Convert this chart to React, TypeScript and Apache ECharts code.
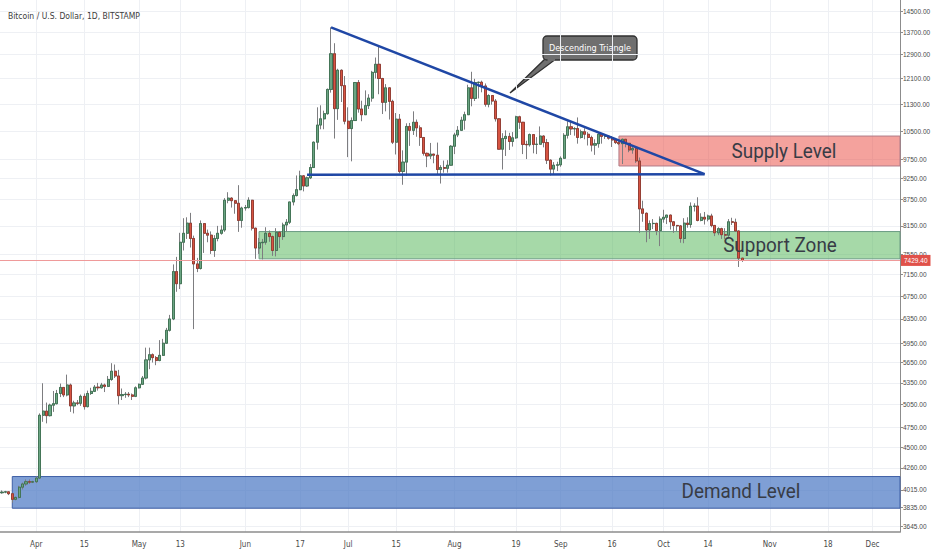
import React, { useEffect, useRef } from "react";
import * as echarts from "echarts";

// ---------- data ----------
const firstDay = "2019-03-21";
const lastDay = "2019-12-09";

// daily candles [open, high, low, close]
const ohlcMar: number[][] = [
  [4045, 4090, 3960, 3985], [3985, 4010, 3975, 3992], [3992, 4005, 3980, 3995], [3995, 4000, 3960, 3975],
  [3975, 3985, 3880, 3915], [3915, 3945, 3905, 3935], [3935, 4060, 3925, 4045], [4045, 4095, 4020, 4080],
  [4080, 4130, 4060, 4105], [4105, 4130, 4080, 4100], [4100, 4115, 4090, 4105],
];
const ohlcApr: number[][] = [
  [4105, 4165, 4090, 4145], [4145, 4930, 4140, 4905], [4905, 5345, 4820, 4960], [4960, 5075, 4800, 4900],
  [4900, 5060, 4890, 5040], [5040, 5235, 4950, 5060], [5060, 5250, 5050, 5200], [5200, 5340, 5150, 5285],
  [5285, 5290, 5150, 5180], [5180, 5470, 5160, 5320], [5320, 5340, 4950, 5030], [5030, 5100, 4930, 5070],
  [5070, 5110, 5040, 5065], [5065, 5185, 5030, 5160], [5160, 5200, 4980, 5020], [5020, 5240, 5010, 5200],
  [5200, 5280, 5180, 5230], [5230, 5320, 5220, 5290], [5290, 5350, 5240, 5280], [5280, 5350, 5270, 5320],
  [5320, 5340, 5220, 5300], [5300, 5450, 5290, 5400], [5400, 5640, 5380, 5520], [5520, 5620, 5420, 5450],
  [5450, 5540, 5050, 5170], [5170, 5270, 5110, 5185], [5185, 5220, 5140, 5190], [5190, 5220, 5150, 5180],
  [5180, 5200, 5110, 5160], [5160, 5300, 5150, 5280],
];
const ohlcMay: number[][] = [
  [5280, 5340, 5270, 5330], [5330, 5450, 5320, 5420], [5420, 5880, 5400, 5690], [5690, 5880, 5550, 5770],
  [5770, 5790, 5650, 5725], [5725, 5750, 5610, 5680], [5680, 6000, 5670, 5760], [5760, 6020, 5750, 5950],
  [5950, 6200, 5940, 6160], [6160, 6420, 6140, 6350], [6350, 7350, 6330, 7210], [7210, 7500, 6830, 6980],
  [6980, 8000, 6880, 7800], [7800, 8320, 7630, 7990], [7990, 8340, 7870, 8210], [8210, 8440, 7690, 7880],
  [7880, 7940, 6180, 7360], [7360, 7480, 7200, 7270], [7270, 8270, 7250, 8200], [8200, 8210, 7580, 7990],
  [7990, 8070, 7800, 7950], [7950, 8030, 7560, 7630], [7630, 7950, 7500, 7880], [7880, 8150, 7820, 7990],
  [7990, 8160, 7960, 8060], [8060, 8780, 8020, 8730], [8730, 8920, 8660, 8780], [8780, 8800, 8560, 8720],
  [8720, 8730, 8420, 8660], [8660, 9090, 8020, 8270], [8270, 8580, 8110, 8550],
];
const ohlcJun: number[][] = [
  [8550, 8620, 8490, 8560], [8560, 8800, 8540, 8730], [8730, 8740, 8050, 8100], [8100, 8110, 7460, 7680],
  [7680, 7890, 7560, 7790], [7790, 7870, 7450, 7800], [7800, 8120, 7750, 7990], [7990, 8050, 7810, 7920],
  [7920, 7940, 7520, 7630], [7630, 8100, 7510, 8010], [8010, 8040, 7680, 7920], [7920, 8220, 7850, 8170],
  [8170, 8300, 8030, 8230], [8230, 8690, 8190, 8690], [8690, 8890, 8610, 8840], [8840, 9330, 8820, 8980],
  [8980, 9450, 8970, 9320], [9320, 9340, 8940, 9070], [9070, 9300, 9050, 9270], [9270, 9620, 9240, 9530],
  [9530, 10220, 9520, 10200], [10200, 11200, 10000, 10680], [10680, 11260, 10560, 10860], [10860, 11100, 10560, 11010],
  [11010, 11780, 10980, 11750], [11750, 13880, 11650, 12930], [12930, 13300, 10300, 11160], [11160, 12420, 10830, 12370],
  [12370, 12400, 11360, 11870], [11870, 12180, 10700, 10790],
];
const ohlcJul: number[][] = [
  [10790, 11200, 9800, 10580], [10580, 10900, 9690, 10810], [10810, 11980, 10810, 11970], [11970, 12050, 11040, 11150],
  [11150, 11400, 10790, 10980], [10980, 11720, 10980, 11250], [11250, 11600, 11150, 11480], [11480, 12350, 11370, 12300],
  [12300, 12800, 12100, 12570], [12570, 13180, 11600, 12100], [12100, 12120, 11000, 11350], [11350, 11920, 11080, 11800],
  [11800, 11820, 10840, 11380], [11380, 11430, 10150, 10200], [10200, 11030, 9870, 10850], [10850, 11000, 9380, 9430],
  [9430, 9980, 9100, 9670], [9670, 10730, 9320, 10640], [10640, 10740, 10100, 10530], [10530, 11080, 10400, 10760],
  [10760, 10840, 10350, 10600], [10600, 10670, 10100, 10330], [10330, 10330, 9840, 9900], [9900, 9920, 9540, 9830],
  [9830, 10180, 9750, 9880], [9880, 9880, 9640, 9850], [9850, 10190, 9340, 9480], [9480, 9590, 9130, 9530],
  [9530, 9710, 9400, 9510], [9510, 9720, 9400, 9590], [9590, 10120, 9580, 10090],
];
const ohlcAug: number[][] = [
  [10090, 10460, 9880, 10400], [10400, 10650, 10340, 10530], [10530, 10920, 10510, 10820], [10820, 11070, 10550, 10980],
  [10980, 11900, 10970, 11800], [11800, 12320, 11230, 11470], [11470, 12090, 11390, 11970], [11970, 12000, 11470, 11980],
  [11980, 12030, 11660, 11860], [11860, 11940, 11220, 11290], [11290, 11600, 11200, 11560], [11560, 11560, 11280, 11390],
  [11390, 11450, 10780, 10860], [10860, 10880, 10000, 10010], [10010, 10450, 9480, 10300], [10300, 10530, 9830, 10360],
  [10360, 10460, 9990, 10220], [10220, 10480, 10080, 10320], [10320, 10950, 10290, 10920], [10920, 10950, 10570, 10760],
  [10760, 10770, 9880, 10140], [10140, 10240, 9750, 10130], [10130, 10440, 10080, 10410], [10410, 10420, 9900, 10140],
  [10140, 10340, 9880, 10145], [10145, 10640, 10140, 10370], [10370, 10390, 10060, 10190], [10190, 10290, 9620, 9720],
  [9720, 9740, 9330, 9490], [9490, 9670, 9360, 9590], [9590, 9680, 9440, 9600],
];
const ohlcSep: number[][] = [
  [9600, 9820, 9550, 9770], [9770, 10450, 9760, 10390], [10390, 10790, 10300, 10630], [10630, 10790, 10400, 10570],
  [10570, 10620, 10380, 10580], [10580, 10900, 10160, 10330], [10330, 10550, 10300, 10490], [10490, 10590, 10280, 10420],
  [10420, 10480, 10110, 10330], [10330, 10380, 9950, 10120], [10120, 10280, 9860, 10160], [10160, 10450, 10050, 10420],
  [10420, 10440, 10160, 10360], [10360, 10420, 10290, 10365], [10365, 10390, 10270, 10310], [10310, 10370, 10070, 10260],
  [10260, 10280, 10150, 10190], [10190, 10260, 10120, 10160], [10160, 10300, 9620, 10280], [10280, 10290, 10060, 10170],
  [10170, 10170, 9930, 9990], [9990, 10080, 9890, 10030], [10030, 10050, 9650, 9700], [9700, 9790, 8000, 8530],
  [8530, 8720, 8240, 8430], [8430, 8450, 7800, 8060], [8060, 8270, 7870, 8200], [8200, 8300, 8080, 8205],
  [8205, 8220, 7950, 8050], [8050, 8360, 7720, 8300],
];
const ohlcOct: number[][] = [
  [8300, 8510, 8220, 8340], [8340, 8390, 8190, 8390], [8390, 8400, 8070, 8240], [8240, 8250, 8000, 8160],
  [8160, 8170, 8040, 8150], [8150, 8170, 7790, 7880], [7880, 8320, 7780, 8210], [8210, 8340, 8110, 8180],
  [8180, 8680, 8110, 8590], [8590, 8660, 8470, 8595], [8595, 8800, 8250, 8270], [8270, 8430, 8250, 8340],
  [8340, 8460, 8180, 8300], [8300, 8400, 8250, 8370], [8370, 8420, 8120, 8160], [8160, 8170, 7930, 8000],
  [8000, 8120, 7950, 8090], [8090, 8110, 7870, 7960], [7960, 8100, 7870, 7950], [7950, 8300, 7880, 8240],
  [8240, 8330, 8170, 8230], [8230, 8310, 8020, 8040], [8040, 8050, 7300, 7475], [7475, 7480, 7400, 7429.4],
];

const lastPrice = 7429.4;

// price-axis tick labels
const yTicks = [
  3645, 3835, 4015, 4260, 4500, 4750, 5050, 5350, 5650, 5950, 6350, 6750, 7150, 7550,
  8150, 8750, 9250, 9750, 10500, 11300, 12100, 12900, 13700, 14500,
];
const yMin = 3587;
const yMax = 14934;

// time-axis labels
const xLabelDates = [
  "2019-04-01", "2019-04-15", "2019-05-01", "2019-05-13", "2019-06-01", "2019-06-17",
  "2019-07-01", "2019-07-15", "2019-08-01", "2019-08-19", "2019-09-01", "2019-09-16",
  "2019-10-01", "2019-10-14", "2019-11-01", "2019-11-18", "2019-12-01",
];
const monthNames = ["Jan", "Feb", "Mar", "Apr", "May", "Jun", "Jul", "Aug", "Sep", "Oct", "Nov", "Dec"];

// annotations [date, price]
const triangleTop = [["2019-06-26", 13880], ["2019-10-13", 9363]];
const triangleBottom = [["2019-06-19", 9345], ["2019-10-13", 9363]];
const supplyZone = [["2019-09-18", 10370], [lastDay, 9570]];
const supportZone = [["2019-06-05", 8027], [lastDay, 7461]];
const demandZone = [["2019-03-25", 4162], [lastDay, 3823]];

// ---------- helpers ----------
function buildCategories(): string[] {
  const out: string[] = [];
  const [y0, m0, d0] = firstDay.split("-").map(Number);
  const [y1, m1, d1] = lastDay.split("-").map(Number);
  let t = Date.UTC(y0, m0 - 1, d0);
  const end = Date.UTC(y1, m1 - 1, d1);
  while (t <= end) {
    out.push(new Date(t).toISOString().slice(0, 10));
    t += 86400000;
  }
  return out;
}

const FONT = "'Liberation Sans Narrow', 'DejaVu Sans Condensed', Roboto, 'Liberation Sans', sans-serif";
const AXIS_FONT = "'Liberation Sans', Arial, sans-serif";

export default function App() {
  const ref = useRef<HTMLDivElement>(null);

  useEffect(() => {
    if (!ref.current) return;
    const chart = echarts.init(ref.current, undefined, { renderer: "svg" });
    const categories = buildCategories();
    const labelSet = new Set(xLabelDates);
    const all = [...ohlcMar, ...ohlcApr, ...ohlcMay, ...ohlcJun, ...ohlcJul, ...ohlcAug, ...ohlcSep, ...ohlcOct];
    // echarts order: [open, close, lowest, highest]
    const full = all.map(([o, h, l, c]) => [o, c, l, h]);
    const bodies = all.map(([o, , , c]) => [o, c, Math.min(o, c), Math.max(o, c)]);

    const zoneItem = (z: any[], fill: string, border: string) => [
      { coord: z[0], itemStyle: { color: fill, borderColor: border, borderWidth: 1 } },
      { coord: z[1] },
    ];

    const option: any = {
      animation: false,
      backgroundColor: "#ffffff",
      title: {
        text: "Bitcoin / U.S. Dollar, 1D, BITSTAMP",
        left: 3,
        top: 6,
        textStyle: { fontSize: 8.5, fontWeight: "normal", color: "#3c3c3c", fontFamily: FONT },
      },
      grid: { left: -1.43, right: 32, top: 0, bottom: 18, containLabel: false, outerBoundsMode: "none" },
      xAxis: {
        type: "category",
        data: categories,
        boundaryGap: false,
        axisLine: { lineStyle: { color: "#8c8c8c", width: 1.5 } },
        axisTick: { show: false },
        axisLabel: {
          interval: (_i: number, v: string) => labelSet.has(v),
          formatter: (v: string) => {
            const [, m, d] = v.split("-").map(Number);
            return d === 1 ? monthNames[m - 1] : String(d);
          },
          fontSize: 8,
          color: "#4a4a4a",
          margin: 8,
          fontFamily: FONT,
        },
        splitLine: {
          show: true,
          interval: (_i: number, v: string) => labelSet.has(v),
          lineStyle: { color: "#eef0f4", width: 1 },
        },
      },
      yAxis: {
        type: "log",
        logBase: 10,
        position: "right",
        min: yMin,
        max: yMax,
        axisLine: { show: true, lineStyle: { color: "#8c8c8c", width: 1 } },
        axisTick: { show: true, length: 3, customValues: yTicks, lineStyle: { color: "#8c8c8c" } },
        axisLabel: {
          customValues: yTicks,
          formatter: (v: number) => Number(v).toFixed(2),
          fontSize: 6.5,
          color: "#4a4a4a",
          margin: 3,
          fontFamily: AXIS_FONT,
        },
        splitLine: { show: true, lineStyle: { color: "#eef0f4", width: 1 } },
        minorSplitLine: { show: false },
      },
      series: [
        {
          name: "wicks",
          type: "candlestick",
          data: full,
          barWidth: 2.6,
          itemStyle: {
            color: "#6ba583",
            color0: "#d75442",
            borderColor: "#7d7d80",
            borderColor0: "#7d7d80",
            borderWidth: 1,
          },
          markArea: {
            silent: true,
            data: [
              zoneItem(supplyZone, "rgba(233,69,59,0.5)", "#b07c88"),
              zoneItem(supportZone, "rgba(77,179,81,0.5)", "#6a9c84"),
              zoneItem(demandZone, "rgba(72,118,195,0.7)", "#3f5fa6"),
            ],
          },
          markLine: {
            silent: true,
            symbol: "none",
            label: { show: false },
            lineStyle: { color: "#1f47a5", width: 2.5, type: "solid" },
            data: [
              [{ coord: triangleTop[0] }, { coord: triangleTop[1] }],
              [{ coord: triangleBottom[0] }, { coord: triangleBottom[1] }],
            ],
          },
        },
        {
          name: "bodies",
          type: "candlestick",
          data: bodies,
          barWidth: 2.6,
          itemStyle: {
            color: "#6ba583",
            color0: "#d75442",
            borderColor: "#2f6a45",
            borderColor0: "#8e2e22",
            borderWidth: 0.7,
          },
          markLine: {
            silent: true,
            symbol: "none",
            lineStyle: { color: "#ef9a9a", width: 1, type: "solid" },
            label: {
              show: true,
              position: "end",
              distance: 1,
              formatter: () => lastPrice.toFixed(2),
              backgroundColor: "#e0514a",
              color: "#ffffff",
              fontSize: 6.5,
              padding: [2, 3, 2, 3],
              fontFamily: AXIS_FONT,
            },
            data: [{ yAxis: lastPrice }],
          },
        },
      ],
      graphic: [
        {
          type: "group",
          z: 100,
          children: [
            {
              type: "polygon",
              shape: { points: [[545, 59], [556, 59], [510, 93]] },
              style: { fill: "#6f6f6f", stroke: "#303030", lineWidth: 1.3 },
            },
            {
              type: "rect",
              shape: { x: 543, y: 36, width: 94, height: 24, r: 4 },
              style: { fill: "#6f6f6f", stroke: "#303030", lineWidth: 1.3 },
            },
            {
              type: "rect",
              shape: { x: 547.5, y: 57, width: 7.5, height: 4 },
              style: { fill: "#6f6f6f" },
            },
            {
              type: "text",
              x: 590,
              y: 48,
              style: {
                text: "Descending Triangle",
                fill: "#ffffff",
                fontSize: 9,
                fontFamily: FONT,
                align: "center",
                verticalAlign: "middle",
              },
            },
          ],
        },
        {
          type: "text",
          z: 100,
          x: 784,
          y: 151,
          scaleX: 0.9,
          style: { text: "Supply Level", fill: "#383c46", fontSize: 21, fontFamily: "Roboto, sans-serif", align: "center", verticalAlign: "middle" },
        },
        {
          type: "text",
          z: 100,
          x: 780,
          y: 245,
          scaleX: 0.9,
          style: { text: "Support Zone", fill: "#383c46", fontSize: 21, fontFamily: "Roboto, sans-serif", align: "center", verticalAlign: "middle" },
        },
        {
          type: "text",
          z: 100,
          x: 741,
          y: 491,
          scaleX: 0.9,
          style: { text: "Demand Level", fill: "#383c46", fontSize: 21, fontFamily: "Roboto, sans-serif", align: "center", verticalAlign: "middle" },
        },
      ],
    };

    chart.setOption(option);
    return () => chart.dispose();
  }, []);

  return (
    <div
      ref={ref}
      style={{ position: "fixed", left: 0, top: 0, width: 932, height: 550, background: "#fff" }}
    />
  );
}
